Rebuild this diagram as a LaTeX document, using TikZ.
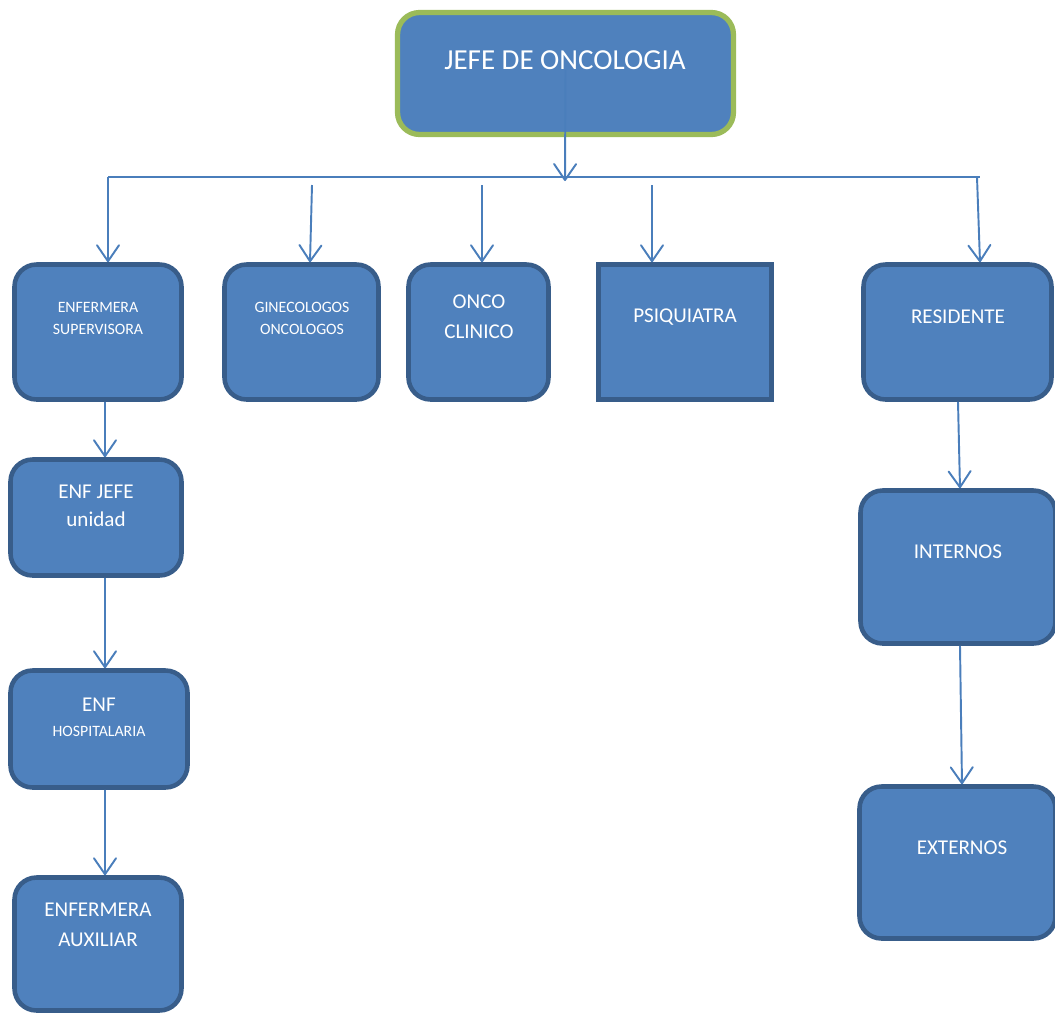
\documentclass[tikz,border=0pt]{standalone}
\usepackage{fontspec}
\setmainfont{Carlito}
\usetikzlibrary{arrows.meta}
\definecolor{boxfill}{HTML}{4F81BD}
\definecolor{boxline}{HTML}{385D8A}
\definecolor{topline}{HTML}{9BBB59}
\definecolor{connline}{HTML}{4A7EBB}
\begin{document}
\begin{tikzpicture}[x=0.02cm, y=-0.02cm,
	box/.style={draw=boxline, fill=boxfill, line width=2.6pt, rounded corners=0.44cm, inner sep=0pt},
	txt/.style={text=white, align=center, inner sep=0pt},
	conn/.style={draw=connline, line width=1.1pt},
	arr/.style={conn, -{Straight Barb[length=3.2mm,width=4.4mm,round]}}]
	
	\useasboundingbox (0,0) rectangle (1055,1015);
	
	% JEFE
	\node[box, draw=topline, line width=3pt, minimum width=6.72cm, minimum height=2.44cm] (jefe) at (565.5,73.5) {};
	\node[txt, font=\fontsize{16.5}{20}\selectfont] (jefe-t) at (565,60) {JEFE DE ONCOLOGIA};
	
	% FIRST ROW
	\node[box, minimum width=3.34cm, minimum height=2.70cm] (sup) at (98,332) {};
	\node[txt, font=\fontsize{9}{12.5}\selectfont] (sup-t) at (98,318) {ENFERMERA\\SUPERVISORA};
	
	\node[box, minimum width=3.08cm, minimum height=2.70cm] (gin) at (301.5,332) {};
	\node[txt, font=\fontsize{9}{12.5}\selectfont] (gin-t) at (302,318) {GINECOLOGOS\\ONCOLOGOS};
	
	\node[box, minimum width=2.80cm, minimum height=2.70cm] (onco) at (478.5,332) {};
	\node[txt, font=\fontsize{12}{17}\selectfont] (onco-t) at (479,317) {ONCO\\CLINICO};
	
	\node[box, rounded corners=0pt, minimum width=3.46cm, minimum height=2.70cm] (psiq) at (685,332) {};
	\node[txt, font=\fontsize{12}{17}\selectfont] (psiq-t) at (685,317) {PSIQUIATRA};
	
	\node[box, minimum width=3.76cm, minimum height=2.70cm] (res) at (957.5,332) {};
	\node[txt, font=\fontsize{12}{17}\selectfont] (res-t) at (958,317) {RESIDENTE};
	
	% ENFERMERIA
	\node[box, minimum width=3.42cm, minimum height=2.32cm] (jefeu) at (96,517.5) {};
	\node[txt, font=\fontsize{12}{16}\selectfont] (jefeu-t) at (96,506) {ENF JEFE\\unidad};
	
	\node[box, minimum width=3.54cm, minimum height=2.34cm] (hosp) at (99,729) {};
	\node[txt, font=\fontsize{12}{14}\selectfont] (hosp-t) at (99,717) {ENF\\{\fontsize{9}{12}\selectfont HOSPITALARIA}};
	
	\node[box, minimum width=3.34cm, minimum height=2.66cm] (aux) at (98,944) {};
	\node[txt, font=\fontsize{12}{17}\selectfont] (aux-t) at (98,925) {ENFERMERA\\AUXILIAR};
	
	% RESIDENCIA
	\node[box, minimum width=3.90cm, minimum height=3.06cm] (intern) at (958,567) {};
	\node[txt, font=\fontsize{12}{17}\selectfont] (intern-t) at (958,552) {INTERNOS};
	
	\node[box, minimum width=3.92cm, minimum height=3.04cm] (extern) at (957.5,862.5) {};
	\node[txt, font=\fontsize{12}{17}\selectfont] (extern-t) at (962,848) {EXTERNOS};
	
	% CONNECTORS
	\coordinate (bus-l) at (108,177);
	\coordinate (bus-r) at (980,177);
	\coordinate (bus-m) at (565,181);
	\coordinate (gin-s) at (312,185);
	\coordinate (onco-s) at (482,185);
	\coordinate (psiq-s) at (652,185);
	\coordinate (res-s) at (977,177);
	
	\draw[conn] (bus-l) -- (bus-r);
	\draw[arr] ([yshift=0.07cm]jefe.center) -- (bus-m);
	
	\draw[arr] (bus-l) -- (sup.north -| bus-l);
	\draw[arr] (gin-s) -- ([xshift=0.17cm]gin.north);
	\draw[arr] (onco-s) -- ([xshift=0.07cm]onco.north);
	\draw[arr] (psiq-s) -- ([xshift=-0.66cm]psiq.north);
	\draw[arr] (res-s) -- ([xshift=0.45cm]res.north);
	
	\draw[arr] ([xshift=0.14cm]sup.south) -- ([xshift=0.18cm]jefeu.north);
	\draw[arr] ([xshift=0.18cm]jefeu.south) -- ([xshift=0.12cm]hosp.north);
	\draw[arr] ([xshift=0.12cm]hosp.south) -- ([xshift=0.14cm]aux.north);
	
	\draw[arr] ([xshift=0.01cm]res.south) -- ([xshift=0.04cm]intern.north);
	\draw[arr] ([xshift=0.04cm]intern.south) -- ([xshift=0.09cm]extern.north);
	
\end{tikzpicture}
\end{document}
